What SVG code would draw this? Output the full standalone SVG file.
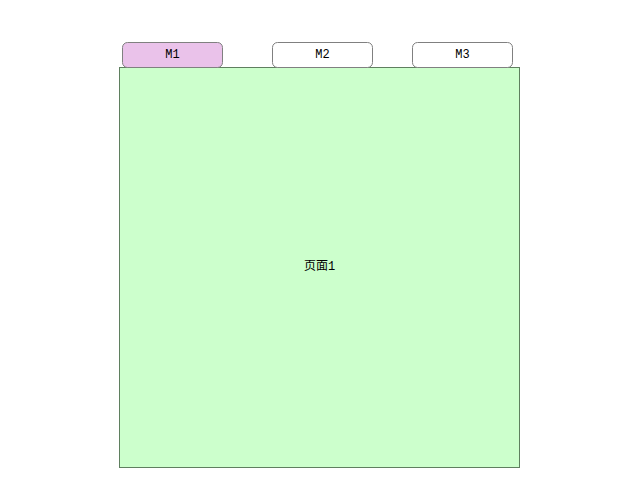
<svg xmlns="http://www.w3.org/2000/svg" width="619" height="493" viewBox="0 0 619 493">
<style>
.tab{stroke:#808080;stroke-width:1}
.lbl{font-family:"Liberation Mono","Noto Sans CJK SC",monospace;font-size:12px;fill:#000;text-anchor:middle;dominant-baseline:central}
</style>
<rect width="619" height="493" fill="#ffffff"/>
<g id="page1">
<rect x="119.5" y="67.5" width="400" height="400" fill="#CCFFCC" stroke="#5F7F5F" stroke-width="1"/>
<text class="lbl" x="319.5" y="267">页面1</text>
</g>
<g id="tab-m1">
<rect class="tab" x="122.5" y="42.5" width="100" height="25" rx="5" ry="5" fill="#EAC2EA"/>
<text class="lbl" x="172.5" y="55">M1</text>
</g>
<g id="tab-m2">
<rect class="tab" x="272.5" y="42.5" width="100" height="25" rx="5" ry="5" fill="#FFFFFF"/>
<text class="lbl" x="322.5" y="55">M2</text>
</g>
<g id="tab-m3">
<rect class="tab" x="412.5" y="42.5" width="100" height="25" rx="5" ry="5" fill="#FFFFFF"/>
<text class="lbl" x="462.5" y="55">M3</text>
</g>
<g id="connectors"></g>
</svg>
